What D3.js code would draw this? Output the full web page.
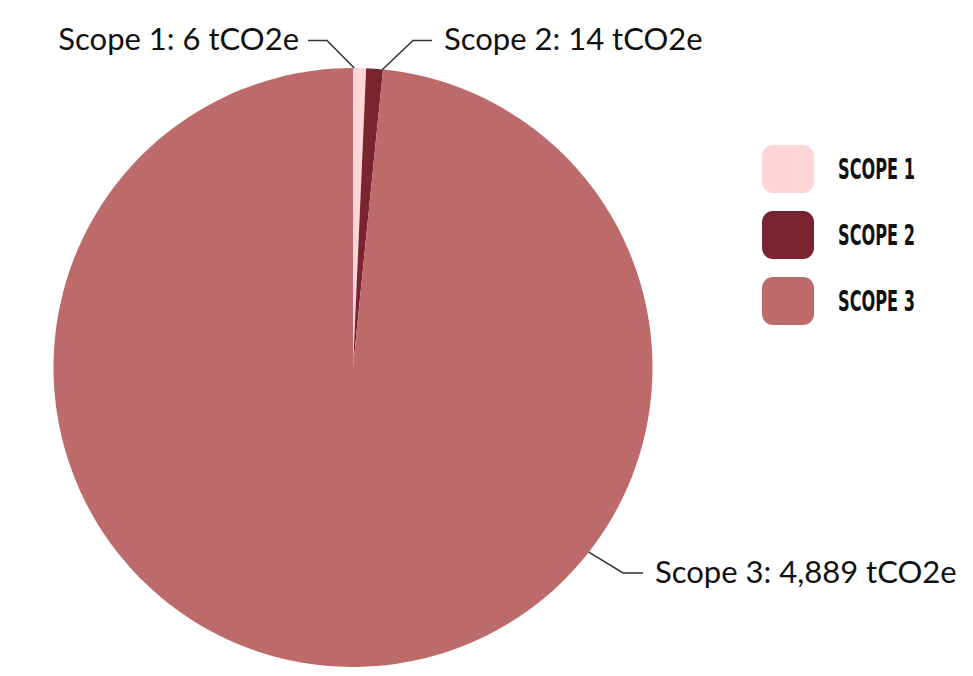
<!DOCTYPE html>
<html><head><meta charset="utf-8">
<script src="https://cdn.jsdelivr.net/npm/d3@7"></script>
<style>html,body{margin:0;padding:0;background:#fff;}svg{display:block;}</style>
</head><body>
<svg id="chart" width="973" height="676"></svg>
<script>
// ---- data ----
const categories = ["Scope 1", "Scope 2", "Scope 3"];
const legendLabels = ["SCOPE 1", "SCOPE 2", "SCOPE 3"];
const emissions = [6, 14, 4889];             // tCO2e, as labelled
const sliceShare = [0.7, 0.9, 98.4];         // slice sizes as drawn in the picture (%)
const colors = ["#FFD6D8", "#7A2430", "#BD6B6A"];

// ---- layout ----
const W = 973, H = 676;
const cx = 353, cy = 367.5, R = 299.5;
const svg = d3.select("#chart");
svg.append("rect").attr("width", W).attr("height", H).attr("fill", "#fff");

const data = categories.map((c, i) => ({cat: c, value: emissions[i], share: sliceShare[i], color: colors[i]}));
const pie = d3.pie().sort(null).value(d => d.share);
const arcs = pie(data);
const arc = d3.arc().innerRadius(0).outerRadius(R);

const g = svg.append("g").attr("transform", `translate(${cx},${cy})`);
g.selectAll("path").data(arcs).join("path")
  .attr("d", arc).attr("fill", d => d.data.color);

// ---- labels with leader lines ----
const fmt = d3.format(",");
const labelFont = "Lato, 'Open Sans', sans-serif";
const rimPt = a => [cx + R * Math.sin(a), cy - R * Math.cos(a)];
const leaders = [
  {a: arcs[0].startAngle + 0.004, elbow: [327, 40.5], end: [308, 40.5], tx: 299, ty: 50, anchor: "end"},
  {a: arcs[1].endAngle - 0.002, elbow: [413, 40.5], end: [432, 40.5], tx: 444, ty: 50, anchor: "start"},
  {a: 2.235, elbow: [623, 573], end: [643, 573], tx: 655, ty: 583, anchor: "start"}
];
leaders.forEach((L, i) => {
  const p0 = rimPt(L.a);
  svg.append("polyline")
    .attr("points", [p0, L.elbow, L.end].map(p => p.join(",")).join(" "))
    .attr("fill", "none").attr("stroke", "#333").attr("stroke-width", 1.5);
  svg.append("text")
    .attr("x", L.tx).attr("y", L.ty)
    .attr("text-anchor", L.anchor)
    .attr("font-family", labelFont).attr("font-size", 31).attr("fill", "#111")
    .text(`${categories[i]}: ${fmt(emissions[i])} tCO2e`);
});

// ---- legend ----
const leg = svg.append("g");
const ly = d3.scaleBand().domain(legendLabels).range([145, 325]).paddingInner(0.273);
legendLabels.forEach((l, i) => {
  leg.append("rect").attr("x", 762).attr("y", ly(l)).attr("width", 52).attr("height", ly.bandwidth())
    .attr("rx", 11).attr("fill", colors[i]);
  leg.append("text").attr("x", 838).attr("y", ly(l) + ly.bandwidth() / 2).attr("dy", "0.36em")
    .attr("font-family", "'Liberation Sans Narrow', 'DejaVu Sans Condensed', sans-serif")
    .attr("font-weight", "bold").attr("font-size", 28).attr("fill", "#111")
    .attr("textLength", 77).attr("lengthAdjust", "spacingAndGlyphs")
    .text(l);
});
</script>
</body></html>
